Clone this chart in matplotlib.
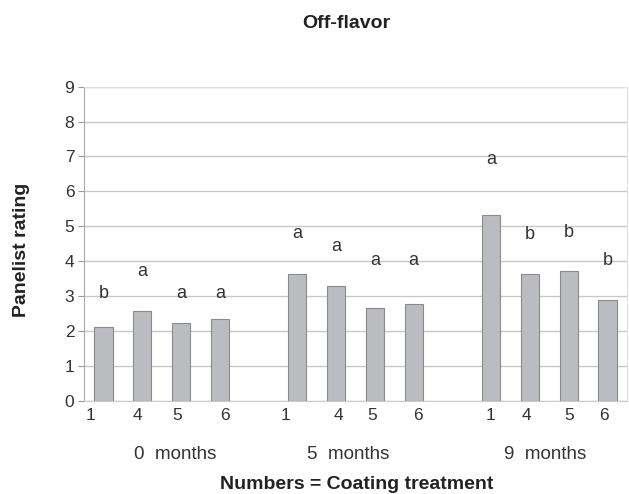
import matplotlib
matplotlib.use("Agg")
import matplotlib.pyplot as plt
import numpy as np

plt.rcParams['font.family'] = ['Liberation Sans', 'DejaVu Sans']

groups = ["0  months", "5  months", "9  months"]
treatments = ["1", "4", "5", "6"]
values = [
    [2.12, 2.57, 2.23, 2.33],
    [3.62, 3.29, 2.67, 2.76],
    [5.32, 3.62, 3.72, 2.90],
]
letters = [
    ["b", "a", "a", "a"],
    ["a", "a", "a", "a"],
    ["a", "b", "b", "b"],
]
letter_y = [
    [3.08, 3.70, 3.08, 3.08],
    [4.80, 4.41, 4.03, 4.03],
    [6.90, 4.75, 4.81, 4.03],
]

fig = plt.figure(figsize=(6.29, 4.94), dpi=100)
ax = fig.add_axes([84/629, 1 - 400.7/494, (627-84)/629, (400.7-86.7)/494])

# slight label shifts seen in the original typesetting (layout only)
tick_shift = [-0.33, -0.13, -0.1, 0.14, -0.3, 0.07, -0.08, 0.1, -0.03, -0.08, 0.0, -0.1]
group_label_x = [1.86, 6.31, 11.39]

pos = []
vals = []
labs = []
for g in range(len(groups)):
    for t in range(len(treatments)):
        p = g * 5 + t
        pos.append(p)
        vals.append(values[g][t])
        labs.append(treatments[t])
        ax.text(p, letter_y[g][t], letters[g][t], ha='center', va='center',
                fontsize=13, color='#333333')

ax.bar(pos, vals, width=0.47, color='#bbbcbf', edgecolor='#8a8a8a', linewidth=0.8, zorder=3)

ax.set_xlim(-0.5, 13.5)
ax.set_ylim(0, 9)
ax.set_yticks(range(0, 10))
ax.set_xticks([p + s for p, s in zip(pos, tick_shift)])
ax.set_xticklabels(labs)
ax.tick_params(axis='x', length=0, pad=5, labelsize=12.5, colors='#333333')
ax.tick_params(axis='y', length=4, width=0.8, color='#999999', labelsize=12.5, colors='#333333', pad=3)
ax.grid(axis='y', color='#c8c8c8', linewidth=1.0, zorder=0)
for s in ['top', 'right']:
    ax.spines[s].set_color('#e0e0e0')
    ax.spines[s].set_linewidth(0.8)
ax.spines['left'].set_color('#aaaaaa')
ax.spines['bottom'].set_color('#cccccc')

for g, name in enumerate(groups):
    ax.text(group_label_x[g], -1.55, name, ha='center', va='center', fontsize=13.5,
            color='#333333', transform=ax.transData)

fig.text(357/629, 1 - 484/494, "Numbers = Coating treatment", ha='center', va='center',
         fontsize=14, fontweight='bold', color='#222222')
fig.text(346/629, 1 - 24/494, "Off-flavor", ha='center', va='center',
         fontsize=14, fontweight='bold', color='#222222')
ax.set_ylabel("Panelist rating", fontsize=14, fontweight='bold', color='#222222')
ax.yaxis.set_label_coords(-0.10, 0.48)

fig.savefig("out.png", dpi=100)
